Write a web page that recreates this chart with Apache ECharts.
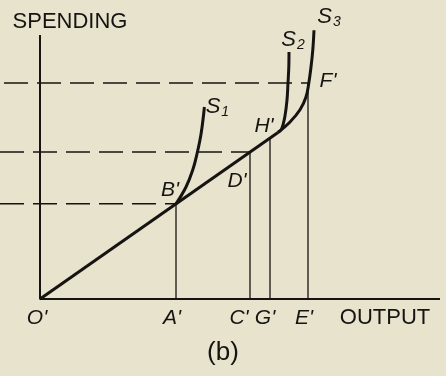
<!DOCTYPE html>
<html>
<head>
<meta charset="utf-8">
<script src="https://cdn.jsdelivr.net/npm/echarts@6/dist/echarts.min.js"></script>
<style>
  html, body { margin: 0; padding: 0; background: #e8e3cd; }
  #chart { width: 446px; height: 376px; }
</style>
</head>
<body>
<div id="chart"></div>
<script>
// Output levels marked on the horizontal axis
const outputTicks = { O: 0, A: 34, C: 52.5, G: 57.5, E: 67 };
// Spending levels marked by the dashed guides
const spendLevels = { B: 23.8, D: 36.75, F: 54 };
// Slope of the straight spending line through the origin
const slope = 0.7;
// End of the straight segment, where S2 and S3 leave it
const lineEnd = [59.5, 41.65];
// Curves bending upward away from the straight line
const s1Points = [[34, 23.8], [36.5, 28], [38.2, 32.3], [39.3, 36.5], [40.3, 41.5], [41.1, 48]];
const s2Points = [[59.5, 41.65], [60.4, 42.5], [61.2, 45.5], [61.75, 49.75], [62, 54], [62.2, 58], [62.25, 61.75]];
const s3Points = [[59.5, 41.65], [62.5, 44.25], [65, 47.3], [66.5, 50.5], [67.2, 54], [67.75, 58], [68.2, 62.3], [68.5, 67.2]];
// Axis extents
const xMax = 100;
const yTop = 66;

const ink = '#151412';
const font = 'Liberation Sans, Arial, sans-serif';

function seg(data, width, dashed) {
  return {
    type: 'line', data: data, symbol: 'none', silent: true, z: 2,
    lineStyle: { color: ink, width: width, type: dashed ? [24, 9] : 'solid', cap: 'butt' }
  };
}
function curve(data) {
  return {
    type: 'line', data: data, symbol: 'none', smooth: 0.4, silent: true, z: 3,
    lineStyle: { color: ink, width: 3 }
  };
}

const t = outputTicks, s = spendLevels;

const italic = { fontFamily: font, fontStyle: 'italic', fontSize: 21, color: ink };
const richS = {
  s: { fontFamily: font, fontStyle: 'italic', fontSize: 22, color: ink },
  sub: { fontFamily: font, fontSize: 14, color: ink, padding: [10, 0, 0, 1] }
};

// Text labels anchored at chart values
const labelItems = [
  { value: [t.O, 0], text: "O'", off: [-3, 19] },
  { value: [t.A, 0], text: "A'", off: [-4, 19] },
  { value: [t.C, 0], text: "C'", off: [-11, 19] },
  { value: [t.G, 0], text: "G'", off: [-5, 19] },
  { value: [t.E, 0], text: "E'", off: [-4, 19] },
  { value: [t.A, s.B], text: "B'", off: [-6, -14] },
  { value: [t.C, s.D], text: "D'", off: [-13, 29] },
  { value: lineEnd, text: "H'", off: [-14, -6] },
  { value: [t.E, s.F], text: "F'", off: [20, -2] },
  { value: s1Points[s1Points.length - 1], text: '{s|S}{sub|1}', off: [13, 0], rich: true },
  { value: s2Points[s2Points.length - 1], text: '{s|S}{sub|2}', off: [4, -12], rich: true },
  { value: s3Points[s3Points.length - 1], text: '{s|S}{sub|3}', off: [15, -13], rich: true },
  { value: [xMax, 0], text: 'OUTPUT', off: [-55, 19], upright: true },
  { value: [0, yTop], text: 'SPENDING', off: [30, -13], upright: true }
];

const chart = echarts.init(document.getElementById('chart'), null, { renderer: 'canvas' });
chart.setOption({
  animation: false,
  backgroundColor: '#e8e3cd',
  grid: { left: 0, right: 6, top: 19, bottom: 77 },
  xAxis: { type: 'value', min: -10, max: xMax, show: false },
  yAxis: { type: 'value', min: 0, max: 70, show: false },
  series: [
    // axes
    seg([[0, yTop], [0, 0], [xMax, 0]], 2, false),
    // dashed spending guides
    seg([[-9, s.F], [t.E, s.F]], 1.5, true),
    seg([[-10, s.D], [t.C, s.D]], 1.5, true),
    seg([[-10, s.B], [t.A, s.B]], 1.5, true),
    // output verticals
    seg([[t.A, 0], [t.A, s.B]], 1.3, false),
    seg([[t.C, 0], [t.C, s.D]], 1.3, false),
    seg([[t.G, 0], [t.G, slope * t.G]], 1.3, false),
    seg([[t.E, 0], [t.E, s.F]], 1.3, false),
    // straight spending line
    { type: 'line', data: [[0, 0], lineEnd], symbol: 'none', silent: true, z: 3,
      lineStyle: { color: ink, width: 3 } },
    curve(s1Points),
    curve(s2Points),
    curve(s3Points),
    {
      type: 'scatter', symbolSize: 0, silent: true, z: 5,
      itemStyle: { opacity: 1 },
      data: labelItems.map(function (d) {
        const base = d.upright
          ? { fontFamily: font, fontSize: 22, color: ink }
          : italic;
        return {
          value: d.value,
          label: Object.assign({
            show: true, position: 'inside', offset: d.off,
            align: 'center', verticalAlign: 'middle',
            formatter: d.text, opacity: 1,
            rich: d.rich ? richS : undefined
          }, base)
        };
      })
    }
  ],
  graphic: [
    { type: 'text', left: 'center', top: 340,
      style: { text: '(b)', font: '26px ' + font, fill: ink } }
  ]
});
</script>
</body>
</html>
